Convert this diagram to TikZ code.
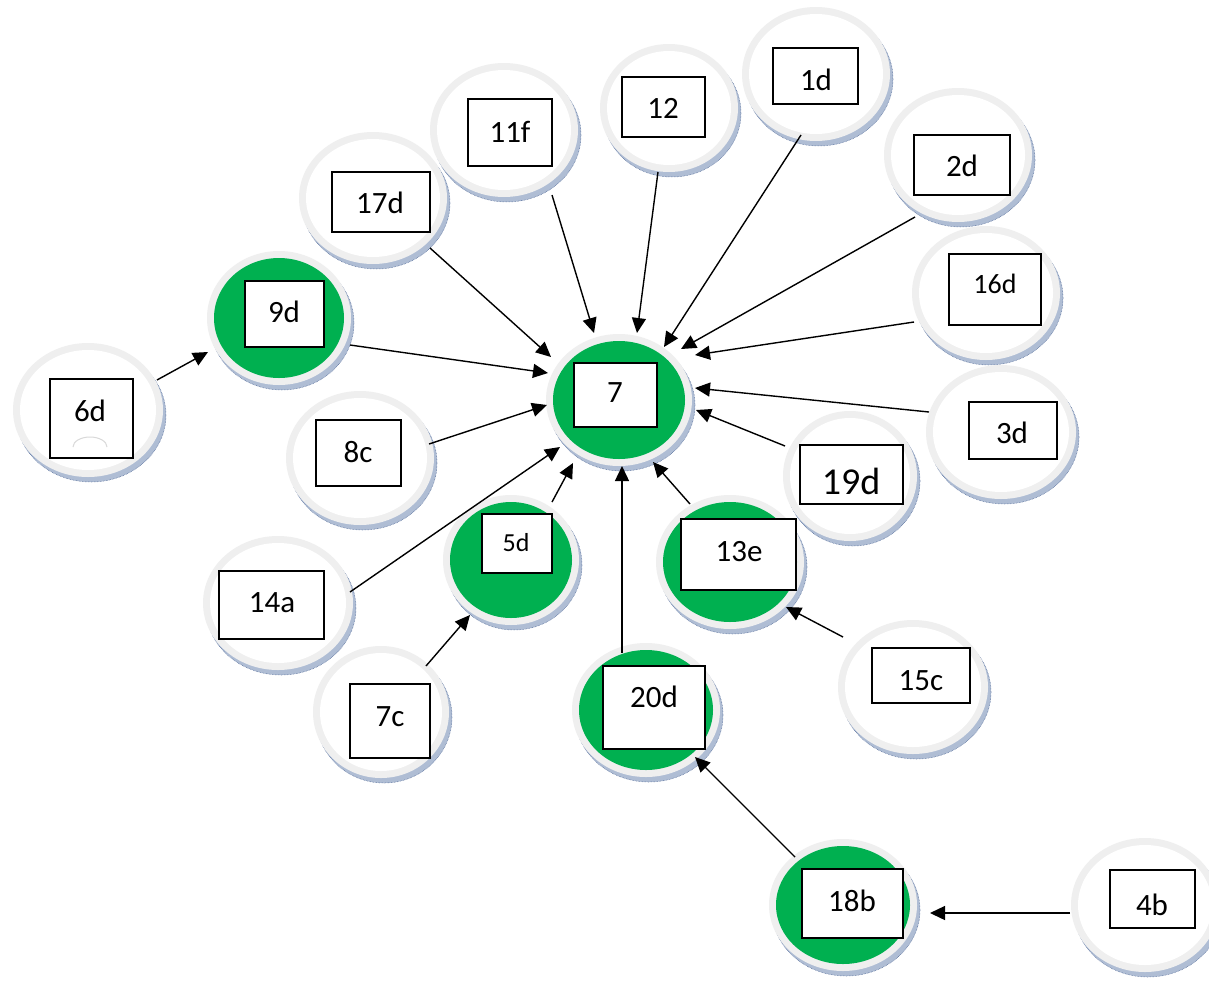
\documentclass[tikz,border=0pt]{standalone}
\usepackage{fontspec}
\setmainfont{Carlito}
\usetikzlibrary{shapes.geometric,arrows.meta,calc}
\definecolor{ringc}{HTML}{EFEFEF}
\definecolor{grn}{HTML}{00B050}
\definecolor{shadf}{HTML}{AFBDD4}
\definecolor{shadd}{HTML}{3F5A8C}
\tikzset{
  ringnode/.style={ellipse, inner sep=0pt, fill=ringc},
  boxs/.style={draw=black, line width=1.6pt, fill=white},
  lbl/.style={inner sep=0pt, font=\fontsize{31}{37}\selectfont},
  arr/.style={line width=1.4pt, -{Triangle[length=15pt,width=14pt]}},
  con/.style={line width=1.4pt}
}
% name, cx, cy, rx, ry, inner fill
\newcommand\bubl[6]{%
  \fill[shadf] (#2+3,#3+5) ellipse [x radius=#4, y radius=#5];
  \draw[shadd, line width=0.5pt, densely dotted] (#2+3,#3+5) ellipse [x radius=#4, y radius=#5];
  \node[ringnode, minimum width=2*#4 pt, minimum height=2*#5 pt] (#1) at (#2,#3) {};
  \fill[#6] (#2,#3) ellipse [x radius=#4-7, y radius=#5-7];
}
\begin{document}
\begin{tikzpicture}[x=1pt,y=-1pt]
\useasboundingbox (0,0) rectangle (1209,980);
\fill[white] (0,0) rectangle (1209,980);
% bubbles
\bubl{n6d}{88}{410}{75}{67}{white}
\bubl{n9d}{279}{318}{72}{67}{grn}
\bubl{n17d}{373}{198}{74}{66}{white}
\bubl{n11f}{504}{130}{74}{67}{white}
\bubl{n12}{669}{108}{69}{64}{white}
\bubl{n1d}{816}{74}{74}{67}{white}
\bubl{n2d}{958}{155}{74}{67}{white}
\bubl{n16d}{986}{293}{74}{67}{white}
\bubl{n3d}{1001}{432}{75}{67}{white}
\bubl{n19d}{850}{476}{67}{65}{white}
\bubl{n8c}{360}{458}{74}{67}{white}
\bubl{n14a}{278}{603}{75}{67}{white}
\bubl{n7}{619}{400}{73}{66}{grn}
\bubl{n5d}{511}{560}{68}{65}{grn}
\bubl{n13e}{730}{562}{74}{67}{grn}
\bubl{n20d}{646}{710}{74}{67}{grn}
\bubl{n15c}{913}{687}{75}{67}{white}
\bubl{n7c}{381}{712}{68}{66}{white}
\bubl{n18b}{843}{905}{74}{66}{grn}
\bubl{n4b}{1145}{905}{74}{67}{white}
% boxes
\draw[boxs] (50,379) rectangle (133,458);
\draw[boxs] (245,281) rectangle (324,347);
\draw[boxs] (332,172) rectangle (430,232);
\draw[boxs] (468,99) rectangle (552,166);
\draw[boxs] (622,77) rectangle (705,137);
\draw[boxs] (773,48) rectangle (858,104);
\draw[boxs] (914,135) rectangle (1010,195);
\draw[boxs] (949,254) rectangle (1041,325);
\draw[boxs] (969,402) rectangle (1057,459);
\draw[boxs] (800,445) rectangle (903,504);
\draw[boxs] (316,420) rectangle (401,486);
\draw[boxs] (219,571) rectangle (324,639);
\draw[boxs] (574,363) rectangle (657,427);
\draw[boxs] (482,514) rectangle (552,573);
\draw[boxs] (681,519) rectangle (796,590);
\draw[boxs] (603,666) rectangle (705,749);
\draw[boxs] (872,648) rectangle (970,703);
\draw[boxs] (350,684) rectangle (430,758);
\draw[boxs] (802,869) rectangle (903,938);
\draw[boxs] (1110,870) rectangle (1195,928);
\draw[black!15, line width=1pt] (73,447) arc[start angle=180, end angle=360, x radius=17, y radius=10];
% labels
\node[lbl] (t6d) at (90,411) {6d};
\node[lbl] (t9d) at (284,312) {9d};
\node[lbl] (t17d) at (380,203) {17d};
\node[lbl] (t11f) at (510,132) {11f};
\node[lbl] (t12) at (663,108) {12};
\node[lbl] (t1d) at (816,80) {1d};
\node[lbl] (t2d) at (962,166) {2d};
\node[lbl, font=\fontsize{28}{33}\selectfont] (t16d) at (995,284) {16d};
\node[lbl] (t3d) at (1012,433) {3d};
\node[lbl, font=\fontsize{38}{45}\selectfont] (t19d) at (851,481) {19d};
\node[lbl] (t8c) at (358,452) {8c};
\node[lbl] (t14a) at (272,603) {14a};
\node[lbl] (t7) at (615,393) {7};
\node[lbl, font=\fontsize{26}{31}\selectfont] (t5d) at (516,543) {5d};
\node[lbl] (t13e) at (739,552) {13e};
\node[lbl] (t20d) at (654,697) {20d};
\node[lbl] (t15c) at (921,681) {15c};
\node[lbl] (t7c) at (390,717) {7c};
\node[lbl] (t18b) at (852,901) {18b};
\node[lbl] (t4b) at (1152,905) {4b};
% connectors
\draw[arr] ($(n6d)+(69,-30)$) -- ($(n9d)+(-71,34)$);
\draw[arr] ($(n9d)+(71,27)$) -- ($(n7)+(-71,-27)$);
\draw[arr] ($(n17d)+(57,50)$) -- ($(n7)+(-68,-43)$);
\draw[arr] ($(n11f)+(48,65)$) -- ($(n7)+(-25,-67)$);
\draw[arr] ($(n12)+(-11,64)$) -- ($(n7)+(18,-67)$);
\draw[arr] ($(n1d)+(-15,61)$) -- ($(n7)+(45,-53)$);
\draw[arr] ($(n2d)+(-43,62)$) -- ($(n7)+(62,-51)$);
\draw[arr] ($(n16d)+(-72,29)$) -- ($(n7)+(76,-45)$);
\draw[arr] ($(n3d)+(-72,-20)$) -- ($(n7)+(76,-12)$);
\draw[arr] ($(n19d)+(-65,-30)$) -- ($(n7)+(77,10)$);
\draw[arr] ($(n8c)+(69,-14)$) -- ($(n7)+(-72,5)$);
\draw[arr] ($(n14a)+(72,-11)$) -- ($(n7)+(-59,47)$);
\draw[arr] ($(n5d)+(41,-58)$) -- ($(n7)+(-46,63)$);
\draw[arr] ($(n20d)+(-24,-57)$) -- ($(n7)+(3,66)$);
\draw[arr] ($(n13e)+(-40,-58)$) -- ($(n7)+(34,62)$);
\draw[arr] ($(n15c)+(-70,-50)$) -- ($(n13e)+(56,45)$);
\draw[arr] ($(n7c)+(45,-46)$) -- ($(n5d)+(-41,55)$);
\draw[arr] ($(n18b)+(-48,-48)$) -- ($(n20d)+(49,47)$);
\draw[arr] ($(n4b)+(-75,8)$) -- ($(n18b)+(87,8)$);
\end{tikzpicture}
\end{document}
